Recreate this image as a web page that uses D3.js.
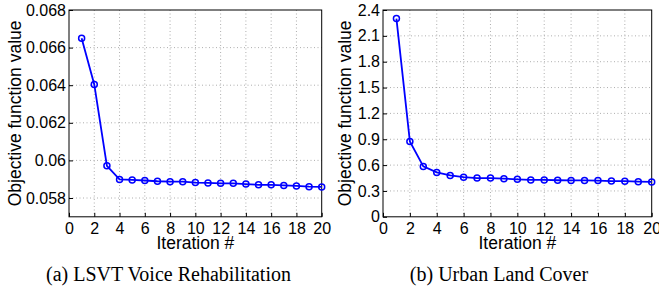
<!DOCTYPE html>
<html>
<head>
<meta charset="utf-8">
<script src="https://cdn.jsdelivr.net/npm/d3@7"></script>
<style>
  body { margin: 0; background: #fff; }
  svg text { font-family: "Liberation Sans", Arial, sans-serif; }
  svg text.caption { font-family: "Liberation Serif", "Times New Roman", serif; }
</style>
</head>
<body>
<svg id="chart" width="659" height="288"></svg>
<script>
// Data
var iterations = d3.range(1, 21);
var lsvtValues = [0.0665, 0.06404, 0.05971, 0.05899, 0.05896, 0.05893, 0.05889, 0.05887, 0.05887, 0.05882,
                  0.0588, 0.05878, 0.05878, 0.05874, 0.0587, 0.0587, 0.05867, 0.05864, 0.0586, 0.05859];
var urbanValues = [2.30, 0.875, 0.585, 0.515, 0.48, 0.46, 0.45, 0.45, 0.443, 0.435,
                   0.428, 0.428, 0.424, 0.422, 0.422, 0.42, 0.415, 0.413, 0.408, 0.405];
var xTicks = d3.range(0, 21, 2);
var lsvtTicks = [0.058, 0.06, 0.062, 0.064, 0.066, 0.068];
var urbanTicks = [0, 0.3, 0.6, 0.9, 1.2, 1.5, 1.8, 2.1, 2.4];

var svg = d3.select("#chart");

// One panel: box, dotted grid, inward ticks, line + open circles
function drawPanel(opt) {
    var x = d3.scaleLinear().domain([0, 20]).range([opt.left, opt.right]);
    var y = d3.scaleLinear().domain(opt.yDomain).range([opt.bottom, opt.top]);
    var g = svg.append("g");

    // grid
    g.selectAll("line.gx").data(xTicks.slice(1, -1)).enter().append("line")
        .attr("x1", function (d) { return x(d); }).attr("x2", function (d) { return x(d); })
        .attr("y1", opt.top).attr("y2", opt.bottom)
        .attr("stroke", "#999").attr("stroke-width", 0.8).attr("stroke-dasharray", "1,2.5");
    g.selectAll("line.gy").data(opt.yTicks.filter(function (d) { return y(d) > opt.top + 1 && y(d) < opt.bottom - 1; }))
        .enter().append("line")
        .attr("y1", function (d) { return y(d); }).attr("y2", function (d) { return y(d); })
        .attr("x1", opt.left).attr("x2", opt.right)
        .attr("stroke", "#999").attr("stroke-width", 0.8).attr("stroke-dasharray", "1,2.5");

    // axes (ticks pointing inward)
    var xAxis = d3.axisBottom(x).tickValues(xTicks).tickSize(-4).tickPadding(6).tickFormat(d3.format("d"));
    var yAxis = d3.axisLeft(y).tickValues(opt.yTicks).tickSize(-4).tickPadding(3).tickFormat(opt.fmt);
    var xa = g.append("g").attr("transform", "translate(0," + opt.bottom + ")").call(xAxis);
    var ya = g.append("g").attr("transform", "translate(" + opt.left + ",0)").call(yAxis);
    [xa, ya].forEach(function (a) {
        a.attr("font-size", null).attr("font-family", null);
        a.select(".domain").remove();
        a.selectAll("text").style("font-size", "16px").attr("fill", "#000");
        a.selectAll("line").attr("stroke", "#000");
    });

    // frame
    g.append("rect").attr("x", opt.left).attr("y", opt.top)
        .attr("width", opt.right - opt.left).attr("height", opt.bottom - opt.top)
        .attr("fill", "none").attr("stroke", "#000").attr("stroke-width", 1);

    // series
    var line = d3.line().x(function (d, i) { return x(iterations[i]); }).y(function (d) { return y(d); });
    g.append("path").datum(opt.values).attr("d", line)
        .attr("fill", "none").attr("stroke", "#0000ff").attr("stroke-width", 1.8);
    g.selectAll("circle").data(opt.values).enter().append("circle")
        .attr("cx", function (d, i) { return x(iterations[i]); })
        .attr("cy", function (d) { return y(d); })
        .attr("r", 3).attr("fill", "none").attr("stroke", "#0000ff").attr("stroke-width", 1.5);

    // labels
    var cx = (opt.left + opt.right) / 2;
    g.append("text").attr("x", cx).attr("y", 249).attr("text-anchor", "middle")
        .style("font-size", "17.5px").text("Iteration #");
    g.append("text").attr("transform", "translate(" + opt.yLabelX + "," + ((opt.top + opt.bottom) / 2) + ")rotate(-90)")
        .attr("text-anchor", "middle").style("font-size", "17.5px").text("Objective function value");
    g.append("text").attr("class", "caption").attr("x", opt.capX).attr("y", 280.5)
        .attr("text-anchor", "middle").style("font-size", "20px").text(opt.caption);
}

drawPanel({
    left: 69, right: 321.7, top: 10, bottom: 216.8,
    yDomain: [0.057, 0.068], yTicks: lsvtTicks,
    fmt: function (d) { return d3.format("")(+d.toFixed(3)); },
    values: lsvtValues, yLabelX: 21, capX: 168.5, caption: "(a)  LSVT Voice Rehabilitation"
});

drawPanel({
    left: 383, right: 651.7, top: 10, bottom: 216.8,
    yDomain: [0, 2.4], yTicks: urbanTicks,
    fmt: function (d) { return d3.format("")(+d.toFixed(1)); },
    values: urbanValues, yLabelX: 351, capX: 499, caption: "(b)  Urban Land Cover"
});
</script>
</body>
</html>
